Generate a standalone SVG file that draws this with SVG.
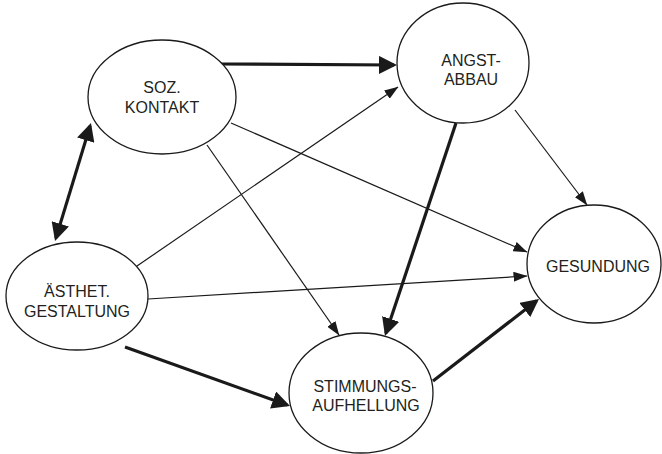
<svg xmlns="http://www.w3.org/2000/svg" width="662" height="454" viewBox="0 0 662 454">
<style>
.node ellipse{fill:#fff;stroke:#1a1a1a;stroke-width:1.3}
.node text{font-family:"Liberation Sans",Arial,sans-serif;font-size:16px;fill:#231f20;text-anchor:middle}
.thick{stroke:#1a1a1a;stroke-width:3.2;fill:none}
.thin{stroke:#1a1a1a;stroke-width:1.2;fill:none}
</style>
<defs>
<marker id="ah" markerUnits="userSpaceOnUse" markerWidth="18" markerHeight="18" refX="15" refY="9" orient="auto-start-reverse">
<path d="M0,0 L18,9 L0,18 Z" fill="#1a1a1a"/>
</marker>
<marker id="at" markerUnits="userSpaceOnUse" markerWidth="14" markerHeight="10" refX="13.5" refY="5" orient="auto">
<path d="M0,0 L14,5 L0,10 Z" fill="#1a1a1a"/>
</marker>
</defs>
<g id="connectors">
<line class="thin" x1="231" y1="123" x2="527" y2="252" marker-end="url(#at)"/>
<line class="thin" x1="207" y1="145" x2="339" y2="335" marker-end="url(#at)"/>
<line class="thin" x1="515" y1="110" x2="587" y2="205" marker-end="url(#at)"/>
<line class="thin" x1="137" y1="266" x2="398" y2="87" marker-end="url(#at)"/>
<line class="thin" x1="148" y1="299" x2="527" y2="276" marker-end="url(#at)"/>
<line class="thick" x1="220" y1="64" x2="394" y2="65" marker-end="url(#ah)"/>
<line class="thick" x1="90.1" y1="125.9" x2="55.9" y2="238.1" marker-start="url(#ah)" marker-end="url(#ah)"/>
<line class="thick" x1="456" y1="123" x2="385.9" y2="333.2" marker-end="url(#ah)"/>
<line class="thick" x1="125" y1="347" x2="287.2" y2="405" marker-end="url(#ah)"/>
<line class="thick" x1="433" y1="381" x2="536.6" y2="300.8" marker-end="url(#ah)"/>
</g>
<g id="soz-kontakt" class="node">
<ellipse cx="162" cy="97" rx="74" ry="57"/>
<text x="162" y="93">SOZ.</text>
<text x="162" y="113">KONTAKT</text>
</g>
<g id="angst-abbau" class="node">
<ellipse cx="463" cy="63" rx="66" ry="60"/>
<text x="471" y="66">ANGST-</text>
<text x="471" y="85">ABBAU</text>
</g>
<g id="aesthet-gestaltung" class="node">
<ellipse cx="77" cy="296" rx="71" ry="54"/>
<text x="77" y="297">ÄSTHET.</text>
<text x="77" y="317">GESTALTUNG</text>
</g>
<g id="stimmungs-aufhellung" class="node">
<ellipse cx="361" cy="393" rx="72" ry="60"/>
<text x="365" y="392">STIMMUNGS-</text>
<text x="366" y="411">AUFHELLUNG</text>
</g>
<g id="gesundung" class="node">
<ellipse cx="594" cy="264" rx="67" ry="59"/>
<text x="598" y="272">GESUNDUNG</text>
</g>
</svg>
